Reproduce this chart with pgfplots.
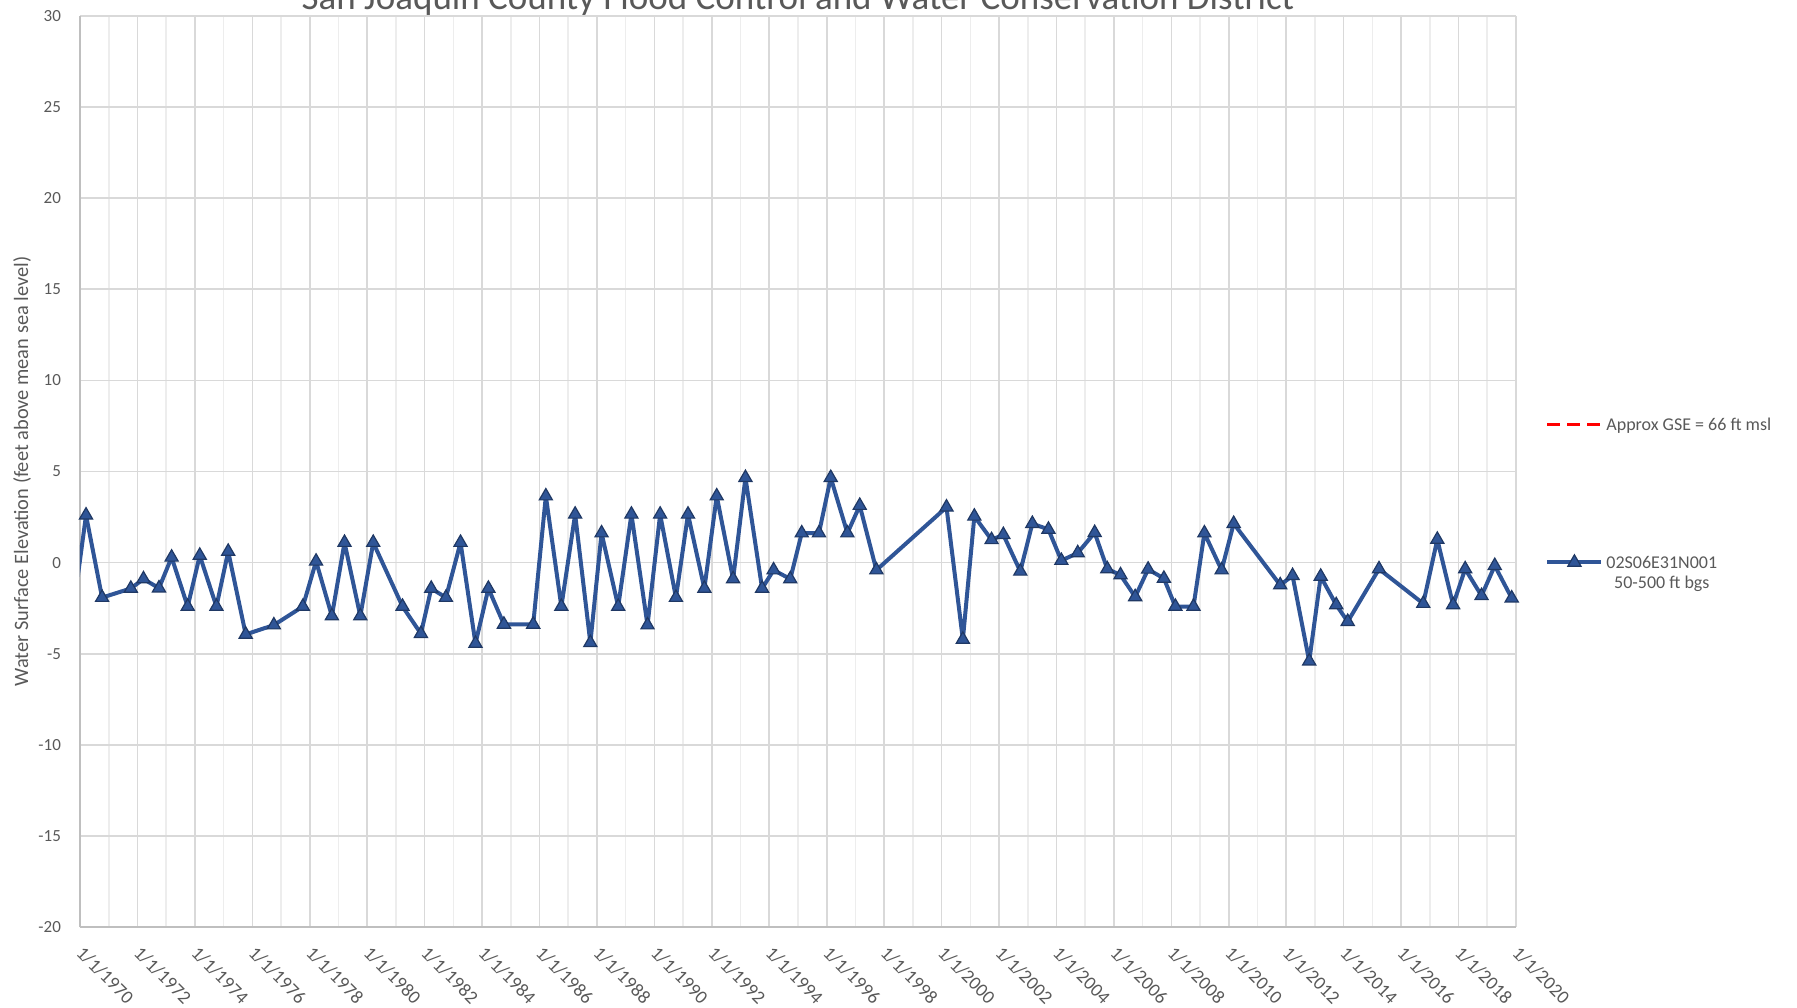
\documentclass[border=0pt]{standalone}
\usepackage{pgfplots}
\pgfplotsset{compat=1.18}
\usepackage{fontspec}
\setmainfont{Carlito}
\definecolor{wlblue}{HTML}{2F5597}
\definecolor{wldark}{HTML}{1F3864}
\definecolor{txtgray}{HTML}{595959}
\definecolor{gridgray}{HTML}{D9D9D9}
\definecolor{minorgray}{HTML}{EDEDED}
\definecolor{axgray}{HTML}{BFBFBF}

\pgfplotstableread{
x y
1970.21 2.60
1970.77 -1.92
1971.77 -1.42
1972.21 -0.90
1972.75 -1.40
1973.19 0.29
1973.75 -2.41
1974.17 0.39
1974.75 -2.41
1975.16 0.61
1975.77 -3.94
1976.75 -3.43
1977.76 -2.41
1978.22 0.07
1978.77 -2.93
1979.21 1.10
1979.76 -2.93
1980.21 1.10
1981.23 -2.41
1981.87 -3.90
1982.23 -1.42
1982.74 -1.92
1983.25 1.10
1983.77 -4.44
1984.22 -1.42
1984.76 -3.39
1985.78 -3.39
1986.22 3.65
1986.76 -2.41
1987.24 2.65
1987.77 -4.40
1988.16 1.62
1988.74 -2.41
1989.20 2.65
1989.76 -3.43
1990.20 2.65
1990.75 -1.92
1991.17 2.65
1991.74 -1.42
1992.17 3.65
1992.74 -0.90
1993.17 4.66
1993.75 -1.42
1994.15 -0.41
1994.73 -0.90
1995.13 1.62
1995.73 1.62
1996.14 4.66
1996.72 1.62
1997.15 3.13
1997.73 -0.41
2000.17 3.04
2000.74 -4.22
2001.14 2.54
2001.74 1.25
2002.15 1.53
2002.74 -0.48
2003.16 2.14
2003.72 1.82
2004.17 0.11
2004.74 0.53
2005.33 1.64
2005.77 -0.35
2006.23 -0.68
2006.74 -1.88
2007.19 -0.37
2007.74 -0.87
2008.14 -2.41
2008.77 -2.41
2009.15 1.62
2009.75 -0.41
2010.17 2.14
2011.79 -1.23
2012.22 -0.72
2012.80 -5.41
2013.20 -0.76
2013.74 -2.32
2014.14 -3.24
2015.23 -0.35
2016.77 -2.25
2017.26 1.27
2017.81 -2.32
2018.23 -0.35
2018.80 -1.82
2019.26 -0.17
2019.85 -1.95
}\welldata

\begin{document}
\begin{tikzpicture}
\begin{axis}[
  at={(0,0)}, anchor=south west,
  scale only axis, width=718pt, height=455.5pt,
  xmin=1970, xmax=2020, ymin=-20, ymax=30,
  xtick={1970,1972,...,2020},
  xticklabels={1/1/1970,1/1/1972,1/1/1974,1/1/1976,1/1/1978,1/1/1980,1/1/1982,1/1/1984,1/1/1986,1/1/1988,1/1/1990,1/1/1992,1/1/1994,1/1/1996,1/1/1998,1/1/2000,1/1/2002,1/1/2004,1/1/2006,1/1/2008,1/1/2010,1/1/2012,1/1/2014,1/1/2016,1/1/2018,1/1/2020},
  minor xtick={1971,1973,...,2019},
  ytick={-20,-15,...,30},
  grid=both,
  major grid style={gridgray, line width=0.8pt},
  minor grid style={minorgray, line width=0.8pt},
  axis x line*=bottom, axis y line*=left,
  axis line style={axgray, line width=1pt, -},
  major tick length=0pt, minor tick length=0pt,
  tick style={draw=none},
  /pgf/number format/assume math mode=true,
  yticklabel style={font=\fontsize{8.5}{10}\selectfont, text=txtgray, xshift=-6pt},
  xticklabel style={font=\fontsize{9.4}{11}\selectfont, text=txtgray, xshift=2.3pt, yshift=-4pt, rotate=-45, anchor=north west},
  ylabel={Water Surface Elevation (feet above mean sea level)},
  every axis y label/.style={at={(axis description cs:0,0.5)}, xshift=-29pt, rotate=90, anchor=center, font=\fontsize{10.2}{12}\selectfont, text=txtgray},
  title={San Joaquin County Flood Control and Water Conservation District},
  title style={at={(axis description cs:0.5,1)}, anchor=base, yshift=-2.75pt, font=\fontsize{18.5}{22}\selectfont, text=txtgray},
  legend style={at={(rel axis cs:1.0202,0.5637)}, anchor=north west, draw=none, fill=none, inner sep=0pt, row sep=56.3pt, column sep=-0.5pt, font=\fontsize{9}{10.3}\selectfont, text=txtgray, cells={anchor=base west, inner sep=0pt}},
  legend image code/.code={\draw[mark repeat=2, mark phase=2, #1] plot coordinates {(0pt,3pt) (13.5pt,3pt) (27pt,3pt)};},
]
\addplot[red, line width=1.5pt, dash pattern=on 6.5pt off 3.5pt] coordinates {(1970,66) (2020,66)};
\addlegendentry{Approx GSE = 66 ft msl}
\addplot[wlblue, line width=2pt, line join=round, forget plot] coordinates {(1969.80,-2.20) (1970.21,2.60)};
\addplot[wlblue, line width=2pt, line join=round, mark=triangle*, mark size=3.8pt, mark options={fill=wlblue, draw=wldark, line width=0.6pt, solid, line join=miter}] table[x=x, y=y] {\welldata};
\addlegendentry{\begin{tabular}[t]{@{}c@{}}02S06E31N001\\50-500 ft bgs\end{tabular}}
\end{axis}
\pgfresetboundingbox
\useasboundingbox (-40pt,-40pt) rectangle (858.5pt,463.5pt);
\end{tikzpicture}
\end{document}
